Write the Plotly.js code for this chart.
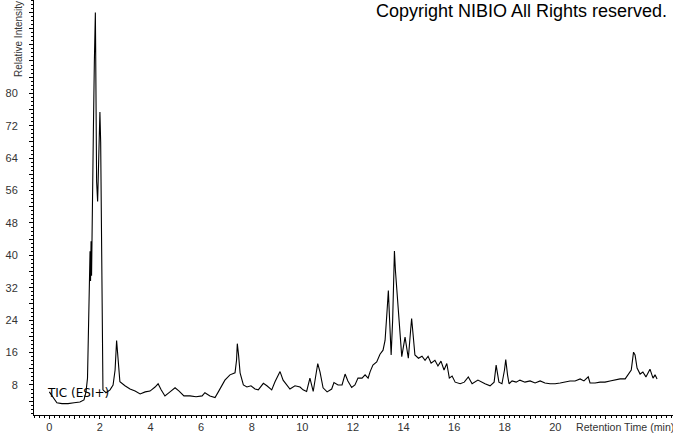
<!DOCTYPE html>
<html>
<head>
<meta charset="utf-8">
<script src="https://cdn.plot.ly/plotly-3.0.1.min.js"></script>
<style>html,body{margin:0;padding:0;background:#fff;}#chart{width:673px;height:433px;}</style>
</head>
<body>
<div id="chart"></div>
<script>
// Retention time (min)
const retentionTime = [
 0.00,0.15,0.30,0.50,0.74,0.98,1.21,1.37,1.45,1.51,1.57,1.61,1.63,1.65,1.67,1.69,1.70,1.74,1.78,1.82,
 1.83,1.85,1.87,1.91,1.96,2.00,2.03,2.06,2.09,2.12,2.24,2.40,2.52,2.60,2.66,2.72,2.79,2.99,3.19,3.39,
 3.59,3.79,3.98,4.18,4.30,4.42,4.57,4.77,4.97,5.13,5.32,5.56,5.80,6.04,6.15,6.35,6.55,6.68,6.83,6.94,
 7.14,7.34,7.40,7.43,7.48,7.54,7.67,7.81,7.97,8.13,8.26,8.46,8.60,8.79,8.92,9.12,9.24,9.40,9.51,9.71,
 9.91,10.03,10.17,10.30,10.43,10.61,10.70,10.82,10.98,11.16,11.25,11.41,11.57,11.69,11.80,11.95,12.08,12.20,12.36,12.48,
 12.60,12.68,12.79,12.94,13.07,13.19,13.27,13.35,13.40,13.45,13.51,13.57,13.64,13.68,13.76,13.86,13.93,14.06,14.19,14.28,
 14.32,14.38,14.45,14.59,14.73,14.85,14.97,15.09,15.24,15.36,15.48,15.60,15.71,15.81,15.92,16.04,16.24,16.40,16.56,16.71,
 16.94,17.22,17.42,17.58,17.66,17.77,17.89,17.99,18.04,18.11,18.17,18.29,18.45,18.60,18.80,19.00,19.20,19.40,19.59,19.79,
 19.99,20.19,20.39,20.58,20.78,20.98,21.13,21.30,21.37,21.57,21.77,21.96,22.16,22.36,22.56,22.76,22.88,23.00,23.09,23.15,
 23.23,23.35,23.46,23.58,23.74,23.86,23.94,24.02
];
// Relative intensity (%)
const relativeIntensity = [
 6.3,4.8,3.6,3.4,3.4,3.6,3.8,4.3,6.3,9.7,31.3,41.0,33.7,43.5,35.0,42.3,50.2,69.8,87.7,100.0,
 92.6,81.0,58.2,53.3,68.0,75.4,68.0,41.0,14.1,6.8,6.1,6.8,8.0,11.7,19.0,12.9,8.8,7.8,7.0,6.5,
 5.8,6.3,6.5,7.5,8.3,6.8,5.3,6.3,7.3,6.5,5.3,5.3,5.1,5.3,6.1,5.3,4.9,6.3,8.0,9.2,
 10.5,11.0,14.1,18.2,15.4,11.0,8.0,7.5,7.8,7.0,6.8,8.4,7.8,6.8,8.8,11.3,9.2,8.0,7.0,7.8,
 7.5,6.8,6.4,9.7,6.4,13.3,11.2,7.3,6.3,7.0,8.6,8.0,8.0,10.7,9.0,7.4,8.0,9.7,9.7,10.5,
 9.7,11.3,12.9,13.7,15.6,16.6,19.0,26.4,31.3,24.0,15.4,24.0,41.1,36.2,29.6,19.0,15.0,19.8,14.6,21.5,
 24.4,20.3,15.4,14.6,15.1,14.1,15.1,13.4,14.1,12.7,13.9,11.7,13.3,9.7,10.2,8.7,8.3,8.7,10.0,8.3,
 9.2,8.3,7.8,8.7,12.9,8.7,8.3,11.7,14.3,10.5,8.3,9.0,8.7,9.2,8.7,9.0,8.5,9.0,8.5,8.3,
 8.3,8.5,8.7,9.0,9.0,9.5,9.0,10.0,8.5,8.5,8.7,8.7,9.0,9.2,9.5,9.5,10.5,11.7,16.1,15.4,
 12.2,10.7,11.2,10.0,11.9,9.7,10.5,9.5
];
// Axis ticks
const xTickVals = [0,1,2,3,4,5,6,7,8,9,10,11,12,13,14,15,16,17,18,19,20,21,22,23,24];
const xTickText = ['0','','2','','4','','6','','8','','10','','12','','14','','16','','18','','20','','','',''];
const yTickVals = [0,4,8,12,16,20,24,28,32,36,40,44,48,52,56,60,64,68,72,76,80,84,88,92,96,100];
const yTickText = ['','','8','','16','','24','','32','','40','','48','','56','','64','','72','','80','','','','',''];

const tickFont = {family: 'Liberation Sans, Arial, sans-serif', size: 11, color: '#333'};

const trace = {
  x: retentionTime, y: relativeIntensity, type: 'scatter', mode: 'lines',
  line: {color: '#000', width: 1.1, shape: 'linear'}, hoverinfo: 'skip'
};

const layout = {
  width: 673, height: 433,
  margin: {l: 34, r: 0, t: 0, b: 18, pad: 0},
  paper_bgcolor: '#fff', plot_bgcolor: '#fff',
  showlegend: false,
  xaxis: {
    range: [-0.605, 24.65], showgrid: false, zeroline: false,
    showline: true, linecolor: '#000', linewidth: 1,
    ticks: 'outside', ticklen: 3, tickcolor: '#000', tickwidth: 1,
    tickmode: 'array', tickvals: xTickVals, ticktext: xTickText,
    minor: {dtick: 0.2, tick0: 0, ticks: 'outside', ticklen: 2, tickcolor: '#000', tickwidth: 1, showgrid: false},
    tickfont: tickFont, ticklabelstandoff: -1
  },
  yaxis: {
    range: [0.59, 103.06], showgrid: false, zeroline: false,
    showline: true, linecolor: '#000', linewidth: 1,
    ticks: 'outside', ticklen: 4, tickcolor: '#000', tickwidth: 1,
    tickmode: 'array', tickvals: yTickVals, ticktext: yTickText,
    minor: {dtick: 1, tick0: 0, ticks: 'outside', ticklen: 2, tickcolor: '#000', tickwidth: 1, showgrid: false},
    tickfont: tickFont, ticklabelstandoff: 9
  },
  annotations: [
    {text: 'Copyright NIBIO All Rights reserved.', xref: 'paper', yref: 'paper',
     x: 0.994, y: 0.974, xanchor: 'right', yanchor: 'middle', showarrow: false,
     font: {family: 'Liberation Sans, Arial, sans-serif', size: 18, color: '#000'}},
    {text: 'TIC (ESI+)', xref: 'paper', yref: 'paper',
     x: 0.0165, y: 0.053, xanchor: 'left', yanchor: 'middle', showarrow: false,
     font: {family: 'DejaVu Sans, Verdana, sans-serif', size: 12, color: '#000'}},
    {text: 'Retention Time (min)', xref: 'paper', yref: 'paper',
     x: 1.005, y: -0.029, xanchor: 'right', yanchor: 'middle', showarrow: false,
     font: {family: 'Liberation Sans, Arial, sans-serif', size: 10.6, color: '#333'}},
    {text: 'Relative Intensity', xref: 'paper', yref: 'paper', textangle: -90,
     x: -0.025, y: 0.906, xanchor: 'center', yanchor: 'middle', showarrow: false,
     font: {family: 'Liberation Sans, Arial, sans-serif', size: 10, color: '#333'}}
  ]
};

Plotly.newPlot('chart', [trace], layout, {staticPlot: true, displayModeBar: false});
</script>
</body>
</html>
